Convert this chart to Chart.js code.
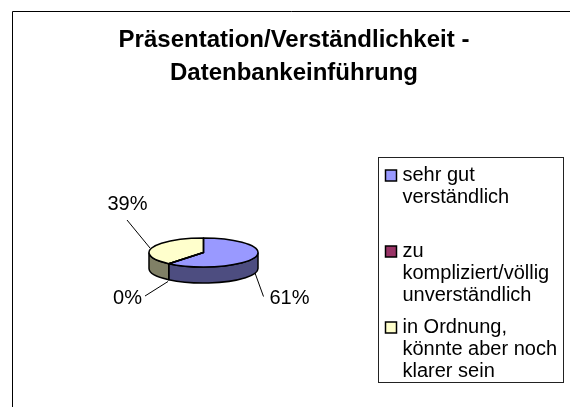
<!DOCTYPE html>
<html>
<head>
<meta charset="utf-8">
<script src="https://cdn.jsdelivr.net/npm/chart.js@4"></script>
<style>
  html, body { margin: 0; padding: 0; background: #fff; overflow: hidden; }
  #wrap { width: 570px; height: 407px; }
</style>
</head>
<body>
<div id="wrap"><canvas id="chart1" width="570" height="407"></canvas></div>
<script>
/* DATA */
var categories = [
    ['sehr gut', 'verständlich', ''],
    ['zu', 'kompliziert/völlig', 'unverständlich'],
    ['in Ordnung,', 'könnte aber noch', 'klarer sein']
];
var values = [61, 0, 39];
var titleLines = ['Präsentation/Verständlichkeit -', 'Datenbankeinführung'];

var topColors = ['#9999FF', '#993366', '#FFFFCC'];
var wallColors = ['#4D4D80', '#4D1A33', '#808066'];

/* 3D LOOK */
var SQUASH = 0.266;
var DEPTH = 16;
var FONT = 'Arial, "Liberation Sans", sans-serif';

// label box and leader line for each slice, relative to the pie centre
var leaders = [
    { dx: 86, dy: 45.5, from: [51.5, 20.5], to: [60, 44] },
    { dx: -76, dy: 45.5, from: [-35.5, 29], to: [-58.5, 43.5] },
    { dx: -76, dy: -48.5, from: [-53.5, -4.5], to: [-76.5, -32.5] }
];

function piePath(ctx, arc){
    var a = arc.getProps(['x', 'y', 'startAngle', 'endAngle', 'outerRadius']);
    ctx.beginPath();
    ctx.moveTo(a.x, a.y);
    ctx.ellipse(a.x, a.y, a.outerRadius, a.outerRadius * SQUASH, 0, a.startAngle, a.endAngle);
    ctx.closePath();
}

var pie3d = {
    id: 'pie3d',
    beforeDraw: function(chart){
        var ctx = chart.ctx;
        ctx.save();
        ctx.strokeStyle = '#000';
        ctx.lineWidth = 1;
        ctx.beginPath();
        ctx.moveTo(570, 11.5);
        ctx.lineTo(12.5, 11.5);
        ctx.lineTo(12.5, 407);
        ctx.stroke();
        ctx.strokeStyle = '#222';
        ctx.strokeRect(378.5, 157.5, 185, 225);
        ctx.restore();
    },
    afterLayout: function(chart){
        var l = chart.legend;
        var w = l.width, h = l.height;
        l.left = 379.5; l.right = l.left + w;
        l.top = 155.5; l.bottom = l.top + h;
    },
    beforeDatasetDraw: function(chart, args){
        var ctx = chart.ctx;
        var arcs = args.meta.data;
        // side wall first
        ctx.save();
        ctx.strokeStyle = '#000';
        ctx.lineWidth = 1.5;
        arcs.forEach(function(arc, i){
            var a = arc.getProps(['x', 'y', 'startAngle', 'endAngle', 'outerRadius']);
            var from = Math.max(a.startAngle, 0);
            var to = Math.min(a.endAngle, Math.PI);
            if(to <= from) return;
            var ry = a.outerRadius * SQUASH;
            ctx.beginPath();
            ctx.ellipse(a.x, a.y, a.outerRadius, ry, 0, from, to);
            ctx.ellipse(a.x, a.y + DEPTH, a.outerRadius, ry, 0, to, from, true);
            ctx.closePath();
            ctx.fillStyle = wallColors[i];
            ctx.fill();
            ctx.stroke();
        });
        ctx.restore();
        // flatten the top
        var c = arcs[0].getProps(['x', 'y']);
        ctx.save();
        ctx.translate(c.x, c.y);
        ctx.scale(1, SQUASH);
        ctx.translate(-c.x, -c.y);
    },
    afterDatasetDraw: function(chart, args){
        var ctx = chart.ctx;
        var arcs = args.meta.data;
        ctx.restore();
        ctx.save();
        ctx.strokeStyle = '#000';
        ctx.lineWidth = 1.5;
        ctx.lineJoin = 'round';
        arcs.forEach(function(arc){
            piePath(ctx, arc);
            ctx.stroke();
        });
        // percentage labels
        var c = arcs[0].getProps(['x', 'y']);
        var total = values.reduce(function(s, v){ return s + v; }, 0);
        ctx.lineWidth = 1;
        ctx.strokeStyle = '#000';
        ctx.fillStyle = '#000';
        ctx.font = '20px ' + FONT;
        ctx.textAlign = 'center';
        ctx.textBaseline = 'middle';
        values.forEach(function(v, i){
            var l = leaders[i];
            ctx.beginPath();
            ctx.moveTo(c.x + l.from[0], c.y + l.from[1]);
            ctx.lineTo(c.x + l.to[0], c.y + l.to[1]);
            ctx.stroke();
            ctx.fillText(Math.round(v / total * 100) + '%', c.x + l.dx, c.y + l.dy);
        });
        ctx.restore();
    }
};

var chart1 = new Chart(document.getElementById('chart1').getContext('2d'), {
    type: 'pie',
    plugins: [pie3d],
    data: {
        labels: categories,
        datasets: [{
            data: values,
            backgroundColor: topColors,
            borderWidth: 0,
            radius: 54.5
        }]
    },
    options: {
        responsive: false,
        animation: false,
        layout: { padding: { left: 18 } },
        plugins: {
            tooltip: { enabled: false },
            title: {
                display: true,
                text: titleLines,
                color: '#000',
                font: { family: FONT, size: 24, weight: 'bold', lineHeight: 1.375 },
                padding: { top: 23.5, bottom: 8.5 }
            },
            legend: {
                position: 'right',
                align: 'start',
                maxWidth: 181,
                labels: {
                    color: '#000',
                    font: { family: FONT, size: 20, lineHeight: 1.1 },
                    usePointStyle: true,
                    pointStyle: 'rect',
                    boxWidth: 3,
                    boxHeight: 11,
                    padding: 10,
                    generateLabels: function(chart){
                        var items = Chart.overrides.pie.plugins.legend.labels.generateLabels(chart);
                        items.forEach(function(it){
                            it.strokeStyle = '#000';
                            it.lineWidth = 1.5;
                            it.pointStyle = 'rect';
                        });
                        return items;
                    }
                }
            }
        }
    }
});
</script>
</body>
</html>
